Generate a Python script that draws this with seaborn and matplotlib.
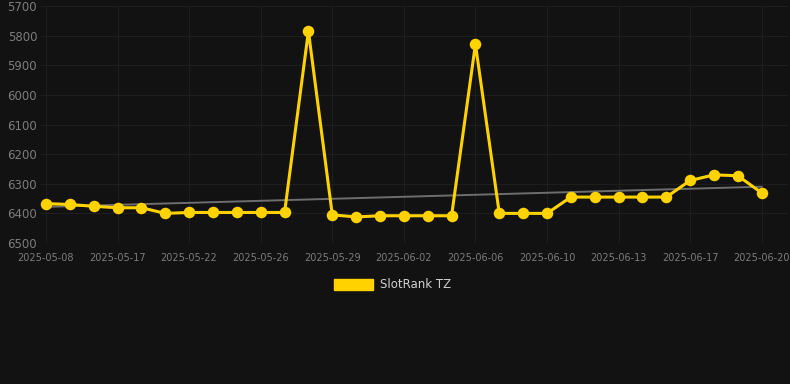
import numpy as np
import pandas as pd
import matplotlib
matplotlib.use("Agg")
import matplotlib.pyplot as plt
import matplotlib.patches as mpatches
import seaborn as sns

# data
dates = ['2025-05-08', '2025-05-11', '2025-05-14', '2025-05-17', '2025-05-19', '2025-05-20',
         '2025-05-22', '2025-05-23', '2025-05-25', '2025-05-26', '2025-05-27', '2025-05-28',
         '2025-05-29', '2025-05-30', '2025-06-01', '2025-06-02', '2025-06-03', '2025-06-05',
         '2025-06-06', '2025-06-07', '2025-06-09', '2025-06-10', '2025-06-11', '2025-06-12',
         '2025-06-13', '2025-06-14', '2025-06-16', '2025-06-17', '2025-06-18', '2025-06-19',
         '2025-06-20']
rank = [6367, 6370, 6376, 6381, 6381, 6400, 6397, 6397, 6397, 6397, 6397, 5785,
        6405, 6412, 6408, 6408, 6408, 6408, 5829, 6400, 6400, 6400, 6345, 6345,
        6345, 6345, 6345, 6289, 6270, 6273, 6331]
trend_ends = [6378, 6310]
yticks = [5700, 5800, 5900, 6000, 6100, 6200, 6300, 6400, 6500]

bg = '#121212'
gold = '#FFD200'
grid_col = '#1e1e1e'

sns.set_theme(style='dark', rc={
    'axes.facecolor': bg, 'figure.facecolor': bg,
    'axes.edgecolor': bg, 'grid.color': grid_col,
})

df = pd.DataFrame({'pos': np.arange(len(dates)), 'date': dates, 'rank': rank})

fig = plt.figure(figsize=(7.9, 3.84), dpi=100)
ax = fig.add_axes([40 / 790, 1 - 243 / 384, 748 / 790, 237 / 384])

# trend line
sns.lineplot(x=[0, len(dates) - 1], y=trend_ends, ax=ax, color='#6e6e6e', linewidth=1.4)

sns.lineplot(data=df, x='pos', y='rank', ax=ax, color=gold, linewidth=2.2,
             marker='o', markersize=8.3, markeredgewidth=0)

ax.set_ylim(6500, 5700)
ax.set_xlim(-0.25, 31.1)
ax.set_yticks(yticks)
ax.set_yticklabels([str(v) for v in yticks], fontsize=8.5, color='#7c7c7c')
tick_pos = list(range(0, len(dates), 3))
ax.set_xticks(tick_pos)
ax.set_xticklabels([dates[i] for i in tick_pos], fontsize=7, color='#7c7c7c')
ax.tick_params(axis='y', length=0, pad=2)
ax.tick_params(axis='x', length=5, color=grid_col, pad=2)
ax.grid(True, color=grid_col, linewidth=0.8)
ax.set_xlabel('')
ax.set_ylabel('')
for s in ax.spines.values():
    s.set_visible(False)

handle = mpatches.Patch(color=gold, label='SlotRank TZ')
fig.legend(handles=[handle], loc='center', bbox_to_anchor=(393 / 790, 1 - 285 / 384),
           frameon=False, fontsize=8.5, labelcolor='#d0d0d0',
           handlelength=3.3, handleheight=0.95, handletextpad=0.6)

fig.savefig('out.png', dpi=100, facecolor=bg)
